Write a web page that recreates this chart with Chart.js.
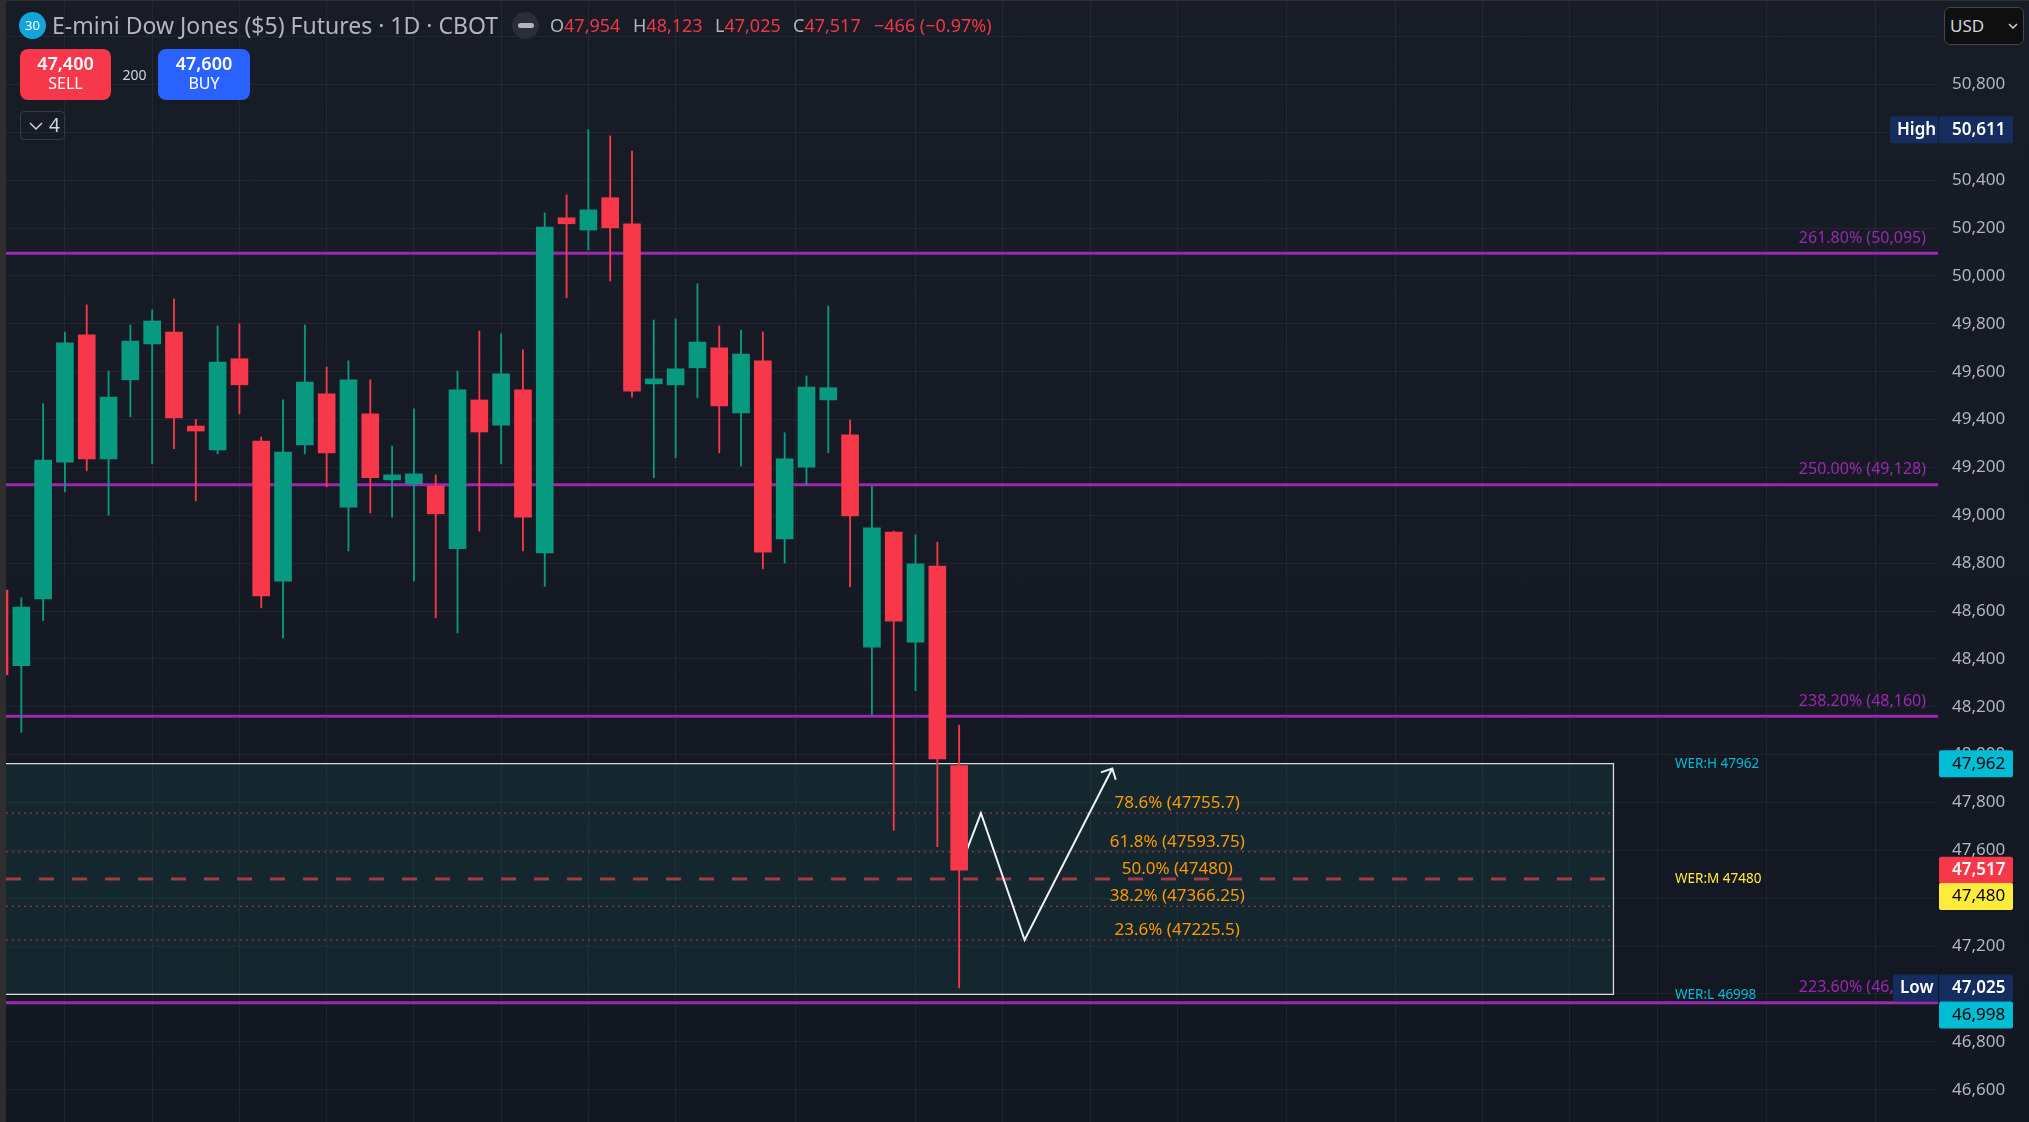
<!DOCTYPE html>
<html>
<head>
<meta charset="utf-8">
<title>E-mini Dow Jones ($5) Futures</title>
<script src="https://cdn.jsdelivr.net/npm/chart.js@4/dist/chart.umd.min.js"></script>
<style>
  html, body { margin: 0; padding: 0; }
  body { width: 2029px; height: 1122px; overflow: hidden; position: relative;
    background: linear-gradient(#181c27, #131722); font-family: "Noto Sans", sans-serif; }
  #chart { position: absolute; left: 0; top: 0; }
  #edgeLeft { position: absolute; left: 0; top: 0; width: 6px; height: 1122px; background: #2e2e2e; }
  #edgeTop { position: absolute; left: 0; top: 0; width: 2029px; height: 1px; background: #2e2e2e; }
  .abs { position: absolute; white-space: nowrap; }
  #badge { left: 19px; top: 12px; width: 27px; height: 27px; border-radius: 50%; background: #12a5dc;
    color: #fff; font-size: 13px; line-height: 27px; text-align: center; }
  #symbol { left: 52px; top: 9px; font-size: 23px; line-height: 33px; color: #b2b5be; }
  #minus { left: 512px; top: 12px; width: 27px; height: 27px; border-radius: 50%; background: #2a2e39; }
  #minus i { position: absolute; left: 6px; top: 11px; width: 16px; height: 5px; border-radius: 3px; background: #b2b5be; }
  .ohlc { top: 12px; font-size: 18px; line-height: 27px; color: #f23645; }
  .ohlc b { font-weight: 400; color: #b2b5be; }
  .btn { top: 49px; height: 51px; border-radius: 8px; color: #fff; text-align: center; }
  .btn div:first-child { font-size: 18px; font-weight: 600; line-height: 20px; padding-top: 4px; }
  .btn div:last-child { font-size: 16px; line-height: 20px; }
  #sell { left: 20px; width: 91px; background: #f7374a; }
  #buy { left: 158px; width: 92px; background: #2962ff; }
  #qty { left: 111px; width: 47px; top: 63px; text-align: center; font-size: 14px; line-height: 24px; color: #d1d4dc; }
  #legendBtn { left: 20px; top: 111px; width: 45px; height: 29px; box-sizing: border-box; border: 1px solid #363a45;
    border-radius: 4px; color: #d1d4dc; font-size: 19px; line-height: 27px; padding-left: 28px; }
  #legendBtn svg, #usd svg { position: absolute; }
  #usd { left: 1944px; top: 7px; width: 80px; height: 38px; box-sizing: border-box; background: #0f0f0f;
    border: 1px solid #434651; border-radius: 6px; color: #d1d4dc; font-size: 17px; line-height: 36px; padding-left: 5px; }
</style>
</head>
<body>
<canvas id="chart" width="2029" height="1122"></canvas>
<div id="edgeLeft"></div>
<div id="edgeTop"></div>
<div id="badge" class="abs">30</div>
<div id="symbol" class="abs">E-mini Dow Jones ($5) Futures · 1D · CBOT</div>
<div id="minus" class="abs"><i></i></div>
<div class="abs ohlc" style="left:550px"><b>O</b>47,954</div>
<div class="abs ohlc" style="left:633px"><b>H</b>48,123</div>
<div class="abs ohlc" style="left:715px"><b>L</b>47,025</div>
<div class="abs ohlc" style="left:793px"><b>C</b>47,517</div>
<div class="abs ohlc" style="left:874px">−466 (−0.97%)</div>
<div id="sell" class="abs btn"><div>47,400</div><div>SELL</div></div>
<div id="qty" class="abs">200</div>
<div id="buy" class="abs btn"><div>47,600</div><div>BUY</div></div>
<div id="legendBtn" class="abs"><svg style="left:8px;top:10px" width="14" height="9"><path d="M1 1l6 6 6-6" fill="none" stroke="#d1d4dc" stroke-width="1.5"/></svg>4</div>
<div id="usd" class="abs">USD<svg style="left:63px;top:15px" width="10" height="7"><path d="M1 1l4 4 4-4" fill="none" stroke="#d1d4dc" stroke-width="1.5"/></svg></div>

<script>
// daily candles
const opens = [48688,48372,48651,49222,49754,49236,49566,49716,49766,49373,49273,49654,49310,48725,49294,49507,49034,49424,49148,49131,49122,48860,49482,49377,49524,48843,50243,50192,50327,50218,49549,49545,49616,49700,49428,49645,48901,49201,49482,49336,48449,48930,48470,48788,47954];
const highs = [48688,48655,49466,49766,49879,49603,49795,49858,49904,49401,49791,49800,49327,49482,49795,49619,49645,49566,49289,49445,49169,49603,49770,49758,49691,50264,50339,50611,50585,50522,49816,49821,49967,49791,49774,49766,49345,49582,49874,49398,49121,48934,48918,48888,48123];
const lows = [48334,48093,48560,49098,49186,49001,49412,49215,49278,49060,49257,49424,48613,48488,49257,49119,48851,49010,48992,48725,48572,48509,48934,49215,48851,48704,49909,50109,49979,49494,49157,49240,49491,49261,49206,48776,48801,49127,49261,48701,48166,47683,48267,47615,47025];
const closes = [48334,48616,49231,49721,49236,49494,49728,49812,49407,49352,49640,49545,48663,49264,49557,49261,49566,49157,49169,49173,49006,49524,49348,49591,48992,50204,50218,50276,50201,49519,49570,49612,49724,49457,49674,48846,49236,49536,49533,48997,48948,48558,48797,47982,47517];

const priceTicks = [46600,46800,47000,47200,47400,47600,47800,48000,48200,48400,48600,48800,49000,49200,49400,49600,49800,50000,50200,50400,50600,50800,51000];
const gridBars = [1,5,9,13,17,21,25,29,33,40,44,48,52,56,62,66,70,74,78,84,88];

// extension levels
const extValues = [50095,49128,48160,46963];
const extLabels = ['261.80% (50,095)','250.00% (49,128)','238.20% (48,160)','223.60% (46,963)'];

// WER zone
const zoneHigh = 47962, zoneMid = 47480, zoneLow = 46998;
const zoneEndBar = 74;
const werLabels = ['WER:H 47962','WER:M 47480','WER:L 46998'];
const werValues = [zoneHigh, zoneMid, zoneLow];

// retracement levels inside the zone
const retraceValues = [47755.7,47593.75,47366.25,47225.5];
const retraceTextValues = [47755.7,47593.75,47480,47366.25,47225.5];
const retraceLabels = ['78.6% (47755.7)','61.8% (47593.75)','50.0% (47480)','38.2% (47366.25)','23.6% (47225.5)'];

// projected path and its arrow head
const pathBars = [44,45,47,51.02];
const pathPrices = [47517,47755.7,47225.5,47942];
const arrowBars = [50.5,51.02,51.18];
const arrowPrices = [47926,47942,47895];

// price tags on the right axis
const tagPrices = [50611,47962,47517,47480,47025,46998];
const tagTexts = ['50,611','47,962','47,517','47,480','47,025','46,998'];
const tagFills = ['#152c5e','#00bcd4','#f7374a','#ffeb3b','#152c5e','#00bcd4'];
const tagInks = ['#ffffff','#000000','#ffffff','#000000','#ffffff','#000000'];
const tagNudge = [0,0,0,17.5,0,20.5];

const UP = '#089981', DOWN = '#f7374a';
const X_MIN = 0.298, X_MAX = 88.88;
const Y_MIN = 46465, Y_MAX = 51153;

const candleColors = closes.map((c, i) => c >= opens[i] ? UP : DOWN);

function level(value, endBar, extra) {
  return Object.assign({
    type: 'line',
    data: [{ x: X_MIN, y: value }, { x: endBar, y: value }],
    pointRadius: 0
  }, extra);
}

const textLayer = {
  id: 'textLayer',
  afterDraw(chart) {
    const { ctx, scales: { x, y } } = chart;
    ctx.save();
    ctx.textBaseline = 'middle';

    ctx.textAlign = 'right';
    ctx.font = '16px "Noto Sans"';
    ctx.fillStyle = '#9c27b0';
    extValues.forEach((v, i) => ctx.fillText(extLabels[i], 1926, y.getPixelForValue(v) - 15));

    ctx.textAlign = 'center';
    ctx.font = '17px "Noto Sans"';
    ctx.fillStyle = '#ff9800';
    retraceTextValues.forEach((v, i) => {
      ctx.fillText(retraceLabels[i], x.getPixelForValue(54), y.getPixelForValue(v) - 10);
    });

    ctx.textAlign = 'left';
    ctx.font = '13.5px "Noto Sans"';
    werLabels.forEach((t, i) => {
      ctx.fillStyle = i === 1 ? '#ffeb3b' : '#00bcd4';
      ctx.fillText(t, 1675, y.getPixelForValue(werValues[i]) + 0.5);
    });

    // High / Low captions
    ctx.font = '600 17px "Noto Sans"';
    [['High', 1890, 0], ['Low', 1893, 4]].forEach(([t, left, tag]) => {
      const cy = y.getPixelForValue(tagPrices[tag]);
      ctx.fillStyle = '#152c5e';
      ctx.beginPath();
      ctx.roundRect(left, cy - 13.5, 1938 - left, 27, [3, 0, 0, 3]);
      ctx.fill();
      ctx.fillStyle = '#ffffff';
      ctx.fillText(t, left + 7, cy);
    });

    tagPrices.forEach((v, i) => {
      const cy = y.getPixelForValue(v) + tagNudge[i];
      ctx.fillStyle = tagFills[i];
      ctx.beginPath();
      ctx.roundRect(1939, cy - 13.5, 74, 27, 2);
      ctx.fill();
      ctx.fillStyle = tagInks[i];
      ctx.font = (i === 0 || i === 2 || i === 4) ? '600 17px "Noto Sans"' : '17px "Noto Sans"';
      ctx.fillText(tagTexts[i], 1952, cy);
    });
    ctx.restore();
  }
};

new Chart(document.getElementById('chart'), {
  data: {
    datasets: [
      {
        type: 'bar',
        data: opens.map((o, i) => ({ x: i, y: [o, closes[i]] })),
        backgroundColor: candleColors,
        barThickness: 17,
        grouped: false,
        borderWidth: 0,
        order: 1
      },
      {
        type: 'bar',
        data: lows.map((l, i) => ({ x: i, y: [l, highs[i]] })),
        backgroundColor: candleColors,
        barThickness: 1.2,
        grouped: false,
        borderWidth: 0,
        order: 2
      },
      {
        type: 'line',
        data: pathBars.map((b, i) => ({ x: b, y: pathPrices[i] })),
        borderColor: '#f0f3f3',
        borderWidth: 2,
        pointRadius: 0,
        order: 3
      },
      {
        type: 'line',
        data: arrowBars.map((b, i) => ({ x: b, y: arrowPrices[i] })),
        borderColor: '#f0f3f3',
        borderWidth: 2,
        pointRadius: 0,
        order: 3
      },
      ...extValues.map(v => level(v, X_MAX, { borderColor: '#9c27b0', borderWidth: 3, order: 5 })),
      ...retraceValues.map(v => level(v, zoneEndBar, {
        borderColor: 'rgba(242,54,69,0.85)', borderWidth: 1, borderDash: [2, 4], order: 6
      })),
      level(zoneMid, zoneEndBar - 0.1, { borderColor: '#a33c47', borderWidth: 3, borderDash: [15, 18], order: 6 }),
      {
        type: 'line',
        data: [
          { x: X_MIN, y: zoneHigh }, { x: zoneEndBar, y: zoneHigh },
          { x: zoneEndBar, y: zoneLow }, { x: X_MIN, y: zoneLow }
        ],
        borderColor: '#d6dada',
        borderWidth: 1.3,
        pointRadius: 0,
        order: 7
      },
      level(zoneHigh, zoneEndBar, {
        borderWidth: 0,
        backgroundColor: 'rgba(30,165,150,0.1)',
        fill: { value: zoneLow },
        order: 8
      })
    ]
  },
  options: {
    responsive: false,
    animation: false,
    events: [],
    layout: { padding: { left: 6, right: 0, top: 0, bottom: 0 } },
    plugins: { legend: { display: false }, tooltip: { enabled: false } },
    scales: {
      x: {
        type: 'linear',
        min: X_MIN,
        max: X_MAX,
        offset: false,
        border: { display: false },
        ticks: { display: false },
        grid: { color: 'rgba(255,255,255,0.05)', drawTicks: false },
        afterBuildTicks: s => { s.ticks = gridBars.map(value => ({ value })); },
        afterFit: s => { s.height = 0; s.paddingLeft = 0; s.paddingRight = 0; }
      },
      y: {
        type: 'linear',
        position: 'right',
        min: Y_MIN,
        max: Y_MAX,
        border: { display: false },
        grid: { color: 'rgba(255,255,255,0.05)', drawTicks: false },
        ticks: {
          color: '#b2b5be',
          padding: 14,
          font: { family: '"Noto Sans"', size: 17 },
          autoSkip: false,
          maxRotation: 0,
          callback: v => v.toLocaleString('en-US')
        },
        afterBuildTicks: s => { s.ticks = priceTicks.map(value => ({ value })); },
        afterFit: s => { s.width = 91; s.paddingTop = 0; s.paddingBottom = 0; }
      }
    }
  },
  plugins: [textLayer]
});
</script>
</body>
</html>
